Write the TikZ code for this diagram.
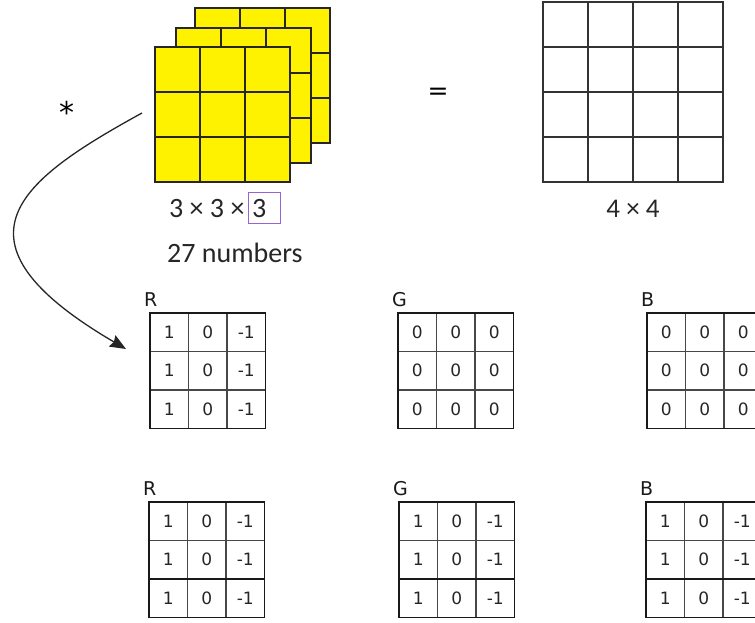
\documentclass[tikz,border=0pt]{standalone}
\usepackage{fontspec}
\setmainfont{Carlito}
\newfontfamily\dvs{DejaVu Sans}
\usetikzlibrary{arrows.meta}
\definecolor{boxpurple}{RGB}{150,100,205}
\newcommand\kmat[5]{%
\begin{scope}[shift={(#2,#3)}]
 \foreach \i in {1,2} {\draw[kcell] (38.5*\i,0) -- (38.5*\i,115.5); \draw[kcell] (0,38.5*\i) -- (115.5,38.5*\i);}
 \draw[kframe] (0,0) rectangle (115.5,115.5);
 \node[klab] (#1lab) at (-6,-7) {#4};
 \foreach \v [count=\c] in {#5} {\foreach \r in {1,2,3} {\node[knum] (#1-\r-\c) at (38.5*\c-19.25, 38.5*\r-19.25) {\v};}}
\end{scope}}
\begin{document}
\begin{tikzpicture}[x=1pt,y=-1pt,
  ylw/.style={fill=yellow,draw=black!85,line width=1.7pt},
  ylwgrid/.style={draw=black!85,line width=1.4pt},
  outgrid/.style={draw=black!80,line width=1.6pt},
  kcell/.style={draw=black!72,line width=1.1pt},
  kframe/.style={draw=black!90,line width=1.5pt},
  kbold/.style={draw=black!90,line width=1.5pt},
  knum/.style={font=\dvs\fontsize{17}{17}\selectfont,text=black!85,inner sep=0pt},
  klab/.style={font=\dvs\fontsize{19}{19}\selectfont,anchor=base west,inner sep=0pt,text=black!90},
  lbl/.style={inner sep=0pt,text=black!85},
  ]
\useasboundingbox (0,0) rectangle (755,623);
\clip (0,0) rectangle (755,623);
% stacked yellow filter
\foreach \ox/\oy in {195/8,176/28,155/47} {
  \draw[ylw] (\ox,\oy) rectangle ++(135,135);
  \foreach \i in {1,2} {
    \draw[ylwgrid] (\ox+45*\i,\oy) -- ++(0,135);
    \draw[ylwgrid] (\ox,\oy+45*\i) -- ++(135,0);}
}
% 4x4 output
\draw[outgrid] (543,2) rectangle (723,182);
\foreach \i in {1,2,3} {
  \draw[outgrid] (543+45*\i,2) -- ++(0,180);
  \draw[outgrid] (543,2+45*\i) -- ++(180,0);}
% texts
\node[lbl,anchor=base,font=\dvs\fontsize{30}{30}\selectfont,text=black] (star) at (67,124) {*};
\node[lbl,anchor=base,font=\dvs\fontsize{25}{25}\selectfont,text=black] (eq) at (438,100) {=};
\node[lbl,anchor=base west,font=\fontsize{28}{28}\selectfont] (dims) at (169,217) {3 × 3 ×};
\node[draw=boxpurple,line width=1pt,minimum width=32,minimum height=31,inner sep=0pt] (depth) at (264,207.5) {};
\node[lbl,anchor=base west,font=\fontsize{28}{28}\selectfont] (depthnum) at (252,217) {3};
\node[lbl,anchor=base west,font=\fontsize{28}{28}\selectfont] (count) at (167,262) {27 numbers};
\node[lbl,anchor=base,font=\fontsize{27}{27}\selectfont] (outdim) at (633,217) {4 × 4};
% curve arrow
\coordinate (cs) at (142,113);
\coordinate (ce) at (126,349);
\draw[line width=1.3pt,black!85,-{Stealth[length=16pt,width=13pt,inset=2pt]}] (cs) .. controls (20,180) and (-60,240) .. (ce);
% kernels
\kmat{rt}{150}{313}{R}{1,0,-1}
\kmat{gt}{398}{313}{G}{0,0,0}
\kmat{bt}{647}{313}{B}{0,0,0}
\kmat{rb}{149}{502}{R}{1,0,-1}
\kmat{gb}{399}{502}{G}{1,0,-1}
\kmat{bb}{646}{502}{B}{1,0,-1}
\foreach \x in {149,399,646} {\draw[kbold] (\x,579) -- ++(115.5,0);}
\end{tikzpicture}
\end{document}
